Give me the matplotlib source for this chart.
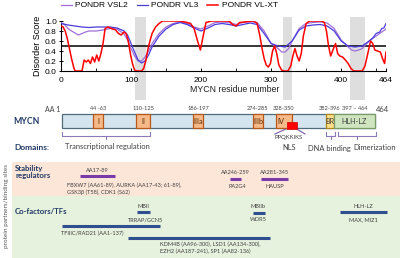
import matplotlib
matplotlib.use('Agg')
import matplotlib.pyplot as plt
from matplotlib.patches import Rectangle

# ---------------- data ----------------
vsl2_res = [0, 5, 10, 15, 20, 25, 30, 35, 40, 50, 60, 70, 80, 90, 95, 100, 105, 110, 115, 120, 125, 130,
            140, 150, 160, 170, 180, 190, 200, 210, 220, 230, 240, 250, 260, 270, 280, 290, 300, 310,
            315, 320, 325, 330, 340, 350, 360, 370, 380, 390, 400, 410, 415, 420, 425, 430, 440, 450,
            455, 464]
vsl2_val = [0.97, 0.93, 0.85, 0.80, 0.76, 0.72, 0.75, 0.78, 0.80, 0.80, 0.82, 0.85, 0.84, 0.74, 0.62,
            0.45, 0.30, 0.20, 0.20, 0.28, 0.40, 0.55, 0.75, 0.88, 0.95, 0.98, 0.95, 0.88, 0.84, 0.90,
            0.97, 0.98, 0.97, 0.93, 0.97, 0.99, 0.97, 0.80, 0.55, 0.45, 0.38, 0.38, 0.45, 0.60, 0.85,
            0.95, 0.97, 0.98, 0.96, 0.85, 0.62, 0.48, 0.42, 0.40, 0.42, 0.45, 0.60, 0.70, 0.75, 0.84]

vl3_res = [0, 10, 20, 30, 40, 50, 60, 70, 80, 90, 95, 100, 105, 110, 115, 120, 125, 130, 140, 150,
           160, 170, 180, 190, 200, 210, 220, 230, 240, 250, 260, 270, 280, 290, 300, 310, 320, 330,
           340, 350, 360, 370, 380, 390, 400, 410, 420, 430, 440, 445, 450, 455, 458, 461, 464]
vl3_val = [0.95, 0.92, 0.90, 0.88, 0.87, 0.88, 0.88, 0.88, 0.86, 0.80, 0.72, 0.55, 0.38, 0.22, 0.16,
           0.20, 0.32, 0.48, 0.70, 0.84, 0.93, 0.97, 0.93, 0.86, 0.80, 0.86, 0.93, 0.95, 0.93, 0.90,
           0.93, 0.96, 0.93, 0.75, 0.55, 0.50, 0.48, 0.60, 0.82, 0.90, 0.92, 0.93, 0.90, 0.80, 0.60,
           0.50, 0.48, 0.50, 0.60, 0.66, 0.75, 0.78, 0.85, 0.86, 0.95]

vlxt_res = [0, 3, 6, 9, 12, 15, 18, 20, 30, 33, 36, 39, 42, 45, 48, 51, 54, 57, 60, 63, 67, 72, 78,
            82, 86, 90, 93, 96, 99, 102, 105, 108, 115, 118, 121, 125, 130, 135, 140, 145, 170, 180,
            185, 190, 195, 199, 203, 207, 215, 240, 245, 250, 255, 275, 280, 284, 287, 290, 293, 296,
            299, 302, 305, 308, 311, 315, 318, 324, 328, 331, 334, 337, 340, 343, 346, 350, 355, 372,
            376, 379, 382, 385, 389, 392, 395, 398, 402, 406, 410, 414, 418, 430, 434, 438, 442, 445,
            448, 452, 456, 459, 462, 464]
vlxt_val = [0.90, 0.88, 0.80, 0.65, 0.45, 0.25, 0.08, 0.00, 0.00, 0.22, 0.18, 0.22, 0.15, 0.28, 0.18,
            0.32, 0.20, 0.35, 0.55, 0.85, 0.88, 0.85, 0.82, 0.75, 0.72, 0.78, 0.75, 0.60, 0.35, 0.15,
            0.02, 0.00, 0.00, 0.05, 0.20, 0.50, 0.75, 0.88, 0.95, 1.00, 1.00, 0.97, 0.95, 0.85, 0.60,
            0.42, 0.70, 0.97, 1.00, 1.00, 0.93, 0.90, 0.97, 1.00, 0.95, 0.70, 0.45, 0.25, 0.12, 0.08,
            0.15, 0.40, 0.50, 0.35, 0.12, 0.02, 0.00, 0.00, 0.10, 0.30, 0.45, 0.30, 0.20, 0.35, 0.70,
            0.95, 1.00, 1.00, 0.97, 0.80, 0.50, 0.30, 0.45, 0.55, 0.35, 0.30, 0.28, 0.22, 0.15, 0.05,
            0.00, 0.00, 0.10, 0.35, 0.60, 0.55, 0.42, 0.40, 0.38, 0.25, 0.15, 0.38]

threshold = 0.5
gray_start = [106, 317, 413]
gray_end = [121, 330, 434]
x_ticks = [0, 100, 200, 300, 400, 464]
y_ticks = [0.0, 0.2, 0.4, 0.6, 0.8, 1.0]

domain_names = ['I', 'II', 'IIIa', 'IIIb', 'IV', 'BR', 'HLH-LZ']
domain_labels = ['44 -63', '110-125', '186-197', '274-285', '328-350', '382-396', '397 – 464']
domain_start = [46, 110, 194, 283, 317, 391, 403]
domain_end = [61, 130, 209, 298, 341, 403, 464]
domain_kind = ['mb', 'mb', 'mb', 'mb', 'mb', 'br', 'hlh']
nls_start, nls_end = 334, 348

stab_labels = ['AA17-89', 'AA246-259', 'AA281-345']
stab_start = [27, 249, 295]
stab_end = [79, 265, 335]

cof_start = [111, 0, 98, 283, 412]
cof_end = [130, 145, 308, 301, 482]

# ---------------- figure ----------------
W, H = 400, 258
fig = plt.figure(figsize=(4, 2.58), dpi=100)

ov = fig.add_axes([0, 0, 1, 1])
ov.set_xlim(0, W); ov.set_ylim(H, 0); ov.axis('off')

s = (375 - 62) / 464.0
dax = fig.add_axes([0, 0, 1, 1])
dax.set_xlim(-62 / s, (W - 62) / s); dax.set_ylim(H, 0); dax.axis('off')

ax = fig.add_axes([61 / W, 1 - 71 / H, (386 - 61) / W, 50 / H])
ax.patch.set_alpha(0)

PF = 'Liberation Sans'
DF = 'Lato'
navy = '#1f3864'
txt = '#404040'
SM = 4.1

# --- disorder plot ---
for a, b in zip(gray_start, gray_end):
    ax.add_patch(Rectangle((a, -0.58), b - a, 1.66, transform=ax.get_xaxis_transform(),
                           facecolor='#dedede', edgecolor='none', clip_on=False, zorder=0))
ax.axhline(threshold, color='black', lw=1.1, zorder=2)
l1, = ax.plot(vsl2_res, vsl2_val, color='#a070d8', lw=0.9, zorder=3)
l2, = ax.plot(vl3_res, vl3_val, color='#4a3cdb', lw=0.9, zorder=3)
l3, = ax.plot(vlxt_res, vlxt_val, color='#ff0000', lw=1.1, zorder=4)
ax.set_xlim(0, 464); ax.set_ylim(0, 1)
ax.set_xticks(x_ticks)
ax.set_xticks([50, 150, 250, 350, 450], minor=True)
ax.set_yticks(y_ticks)
ax.set_yticklabels([f'{v:.1f}' for v in y_ticks], fontfamily=PF)
ax.set_xticklabels([str(v) for v in x_ticks], fontfamily=PF)
ax.tick_params(axis='both', labelsize=6, colors='black', width=0.7)
ax.tick_params(axis='x', direction='in', length=2.5, pad=4)
ax.tick_params(axis='x', which='minor', direction='in', length=2, width=0.6)
ax.tick_params(axis='y', direction='inout', length=3, pad=1.5)
for sp in ['top', 'right']:
    ax.spines[sp].set_visible(False)
for sp in ['left', 'bottom']:
    ax.spines[sp].set_linewidth(0.8)
ax.set_ylabel('Disorder Score', fontsize=6.5, fontfamily=PF, labelpad=2)
ov.text(235, 90, 'MYCN residue number', fontsize=6.3, fontfamily=PF, ha='center', va='center', color='#222222')

fig.legend([l1, l2, l3], ['PONDR VSL2', 'PONDR VL3', 'PONDR VL-XT'], loc='upper left',
           bbox_to_anchor=(59 / W, 1.0), ncol=3, frameon=False, prop={'family': PF, 'size': 6},
           handlelength=1.3, columnspacing=1.1, handletextpad=0.4, borderaxespad=0.1, borderpad=0.1)

# --- domain diagram ---
by0, bh = 114, 14
dax.add_patch(Rectangle((0, by0), 464, bh, facecolor='#d5e5ef', edgecolor='#4e6c7a', lw=0.9, zorder=2))
fills = {'mb': ('#f6b98a', '#b8581a'), 'br': ('#ffe08a', '#b08a20'), 'hlh': ('#cfe5bf', '#7a9a6a')}
for n, lab, a, b, k in zip(domain_names, domain_labels, domain_start, domain_end, domain_kind):
    fc, ec = fills[k]
    dax.add_patch(Rectangle((a, by0), b - a, bh, facecolor=fc, edgecolor=ec, lw=0.9, zorder=3))
    cx = (a + b) / 2
    lx = a + (b - a) * 0.3 if n == 'IV' else cx
    dax.text(lx, by0 + bh / 2 + 0.5, n, fontsize=5.2, family=DF, ha='center', va='center',
             color='#5a2a00' if k == 'mb' else txt, zorder=5)
    dax.text(cx, 108, lab, fontsize=4.1, family=DF, ha='center', va='center', color=txt)
dax.add_patch(Rectangle((nls_start, 122), nls_end - nls_start, 7, facecolor='#ff0000', edgecolor='#d00000', lw=0.5, zorder=4))
ov.text(53, 109.5, 'AA 1', fontsize=5, family=DF, ha='center', va='center', color=txt)
ov.text(383, 109.5, '464', fontsize=5.5, family=DF, ha='center', va='center', color=txt)
ov.text(26, 121, 'MYCN', fontsize=6.2, family=DF, weight='bold', ha='center', va='center', color=navy)

br_col = '#8c7ab8'
def bracket(x0, x1, y=132, h=4, drop=3):
    xm = (x0 + x1) / 2
    ov.plot([x0, x0, x1, x1], [y, y + h, y + h, y], color=br_col, lw=0.8)
    ov.plot([xm, xm], [y + h, y + h + drop], color=br_col, lw=0.8)
bracket(62, 150)
bracket(326, 335)
bracket(338, 376)
ov.plot([275, 287], [134, 128.5], color='#7a5aa8', lw=0.8)
ov.plot([296, 305], [128.5, 134], color='#7a5aa8', lw=0.8)
ov.text(289, 138, 'PPQKKIKS', fontsize=4.3, family=DF, ha='center', va='center', color=txt)

ov.text(14, 147, 'Domains:', fontsize=6, family=DF, weight='bold', ha='left', va='center', color=navy)
ov.text(65, 147, 'Transcriptional regulation', fontsize=5.4, family=DF, ha='left', va='center', color=txt)
ov.text(289, 148, 'NLS', fontsize=5.4, family=DF, ha='center', va='center', color=txt)
ov.text(329, 148, 'DNA binding', fontsize=5.4, family=DF, ha='center', va='center', color=txt)
ov.text(375, 148, 'Dimerization', fontsize=5.4, family=DF, ha='center', va='center', color=txt)

# --- partner panels ---
ov.add_patch(Rectangle((12, 162), 388, 34, facecolor='#fce6d8', edgecolor='none', zorder=0))
ov.add_patch(Rectangle((12, 196), 388, 62, facecolor='#e6f1de', edgecolor='none', zorder=0))
ov.text(7, 206, 'protein partners/binding sites', fontsize=4.6, family=DF, rotation=90, ha='center', va='center', color='#555555')

ov.text(15, 172, 'Stability\nregulators', fontsize=5.6, family=DF, weight='bold', ha='left', va='center', color=navy, linespacing=1.05)
purple = '#7a3aa8'
stab_y = [176, 179, 179]
stab_text_y = [170, 173, 173]
for lab, a, b, y, ty in zip(stab_labels, stab_start, stab_end, stab_y, stab_text_y):
    dax.plot([a, b], [y, y], color=purple, lw=2.2, solid_capstyle='butt')
    dax.text((a + b) / 2, ty, lab, fontsize=SM, family=DF, ha='center', va='center', color=txt)
ov.text(67, 185, 'FBXW7 (AA61-89), AURKA (AA17-43; 61-89),', fontsize=SM, family=DF, ha='left', va='center', color=txt)
ov.text(67, 192.5, 'GSK3β (T58), CDK1 (S62)', fontsize=SM, family=DF, ha='left', va='center', color=txt)
ov.text(237, 187, 'PA2G4', fontsize=SM, family=DF, ha='center', va='center', color=txt)
ov.text(275, 187, 'HAUSP', fontsize=SM, family=DF, ha='center', va='center', color=txt)

ov.text(15, 212, 'Co-factors/TFs', fontsize=5.6, family=DF, weight='bold', ha='left', va='center', color=navy)
blue = '#2f4f8f'
cof_y = [212, 226, 238, 213, 212]
for a, b, y in zip(cof_start, cof_end, cof_y):
    dax.plot([a, b], [y, y], color=blue, lw=2.2, solid_capstyle='butt')
ov.text(143, 206, 'MBII', fontsize=SM, family=DF, ha='center', va='center', color=txt)
ov.text(146, 219.5, 'TRRAP/GCN5', fontsize=SM, family=DF, ha='center', va='center', color=txt)
ov.text(92, 233, 'TFIIIC/RAD21 (AA1-137)', fontsize=SM, family=DF, ha='center', va='center', color=txt)
ov.text(160, 244.5, 'KDM4B (AA96-300), LSD1 (AA134-300),', fontsize=SM, family=DF, ha='left', va='center', color=txt)
ov.text(160, 251.5, 'EZH2 (AA187-241), SP1 (AA82-136)', fontsize=SM, family=DF, ha='left', va='center', color=txt)
ov.text(258, 206.5, 'MBIIb', fontsize=SM, family=DF, ha='center', va='center', color=txt)
ov.text(258, 219.5, 'WDR5', fontsize=SM, family=DF, ha='center', va='center', color=txt)
ov.text(363, 206, 'HLH-LZ', fontsize=SM, family=DF, ha='center', va='center', color=txt)
ov.text(363, 219.5, 'MAX, MIZ1', fontsize=SM, family=DF, ha='center', va='center', color=txt)

fig.savefig('out.png', dpi=100)
